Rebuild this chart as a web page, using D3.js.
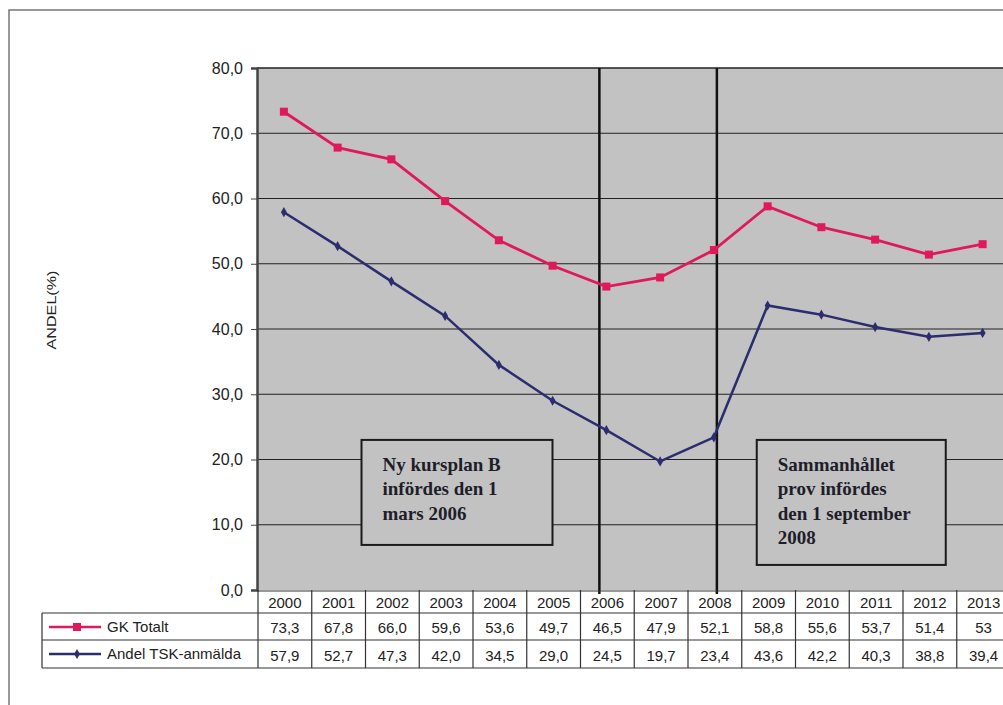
<!DOCTYPE html>
<html>
<head>
<meta charset="utf-8">
<script src="https://cdn.jsdelivr.net/npm/d3@7"></script>
<style>
  html, body { margin: 0; padding: 0; background: #fff; }
  svg { display: block; }
</style>
</head>
<body>
<svg id="chart" width="1003" height="705"></svg>
<script>
// Andel godkända (GK Totalt) och andel TSK-anmälda, 2000–2013
const years = ["2000","2001","2002","2003","2004","2005","2006","2007","2008","2009","2010","2011","2012","2013"];
const gkTotalt = [73.3, 67.8, 66.0, 59.6, 53.6, 49.7, 46.5, 47.9, 52.1, 58.8, 55.6, 53.7, 51.4, 53];
const tskAnmalda = [57.9, 52.7, 47.3, 42.0, 34.5, 29.0, 24.5, 19.7, 23.4, 43.6, 42.2, 40.3, 38.8, 39.4];
const gkLabels = ["73,3","67,8","66,0","59,6","53,6","49,7","46,5","47,9","52,1","58,8","55,6","53,7","51,4","53"];
const tskLabels = ["57,9","52,7","47,3","42,0","34,5","29,0","24,5","19,7","23,4","43,6","42,2","40,3","38,8","39,4"];
const yTicks = [0, 10, 20, 30, 40, 50, 60, 70, 80];
const seriesNames = ["GK Totalt", "Andel TSK-anmälda"];
const note1 = ["Ny kursplan B", "infördes den 1", "mars 2006"];
const note2 = ["Sammanhållet", "prov infördes", "den 1 september", "2008"];

const svg = d3.select("#chart");
const pink = "#de1a5a", navy = "#2b2d6e", gridCol = "#222";
const sans = "Liberation Sans, Arial, sans-serif";
const serif = "Liberation Serif, Times New Roman, serif";

// outer frame
svg.append("path").attr("d", "M9,705 V10 H1003").attr("fill", "none")
  .attr("stroke", "#777").attr("stroke-width", 1.5);

const plotTop = 68, plotBottom = 590, plotLeft = 257;
const bandW = 53.75;
const x = d3.scaleBand().domain(years).range([plotLeft, plotLeft + bandW * years.length]).padding(0);
const y = d3.scaleLinear().domain([0, 80]).range([plotBottom, plotTop]);
const cx = d => x(d) + x.bandwidth() / 2;

// plot background
svg.append("rect").attr("x", plotLeft).attr("y", plotTop)
  .attr("width", x.range()[1] - plotLeft).attr("height", plotBottom - plotTop)
  .attr("fill", "#c2c2c2");

// horizontal grid
svg.append("g").selectAll("line").data(yTicks.filter(t => t > 0)).join("line")
  .attr("x1", plotLeft).attr("x2", x.range()[1])
  .attr("y1", d => y(d)).attr("y2", d => y(d))
  .attr("stroke", gridCol).attr("stroke-width", d => d === 80 ? 1.5 : 1);

// y axis
const yAxis = d3.axisLeft(y).tickValues(yTicks).tickSize(6).tickPadding(8)
  .tickFormat(d => d3.format(".1f")(d).replace(".", ","));
const ya = svg.append("g").attr("transform", `translate(${plotLeft},0)`).call(yAxis);
ya.select(".domain").attr("stroke", "#444").attr("stroke-width", 2.5);
ya.selectAll(".tick line").attr("stroke", "#444");
ya.selectAll(".tick text").attr("font-family", sans).attr("font-size", 16).attr("fill", "#222");

// axis title
svg.append("text").attr("transform", "translate(56,310) rotate(-90)")
  .attr("text-anchor", "middle").attr("font-family", sans).attr("font-size", 13)
  .attr("textLength", 79).attr("lengthAdjust", "spacingAndGlyphs")
  .attr("fill", "#222").text("ANDEL(%)");

// event markers (March 2006, September 2008)
const events = [{ year: "2006", off: -7 }, { year: "2008", off: 3 }];
svg.append("g").selectAll("line").data(events).join("line")
  .attr("x1", d => cx(d.year) + d.off).attr("x2", d => cx(d.year) + d.off)
  .attr("y1", plotTop).attr("y2", plotBottom + 4)
  .attr("stroke", "#111").attr("stroke-width", 2.5);

// annotation boxes
function noteBox(lines, bx, by, bw, bh) {
  const g = svg.append("g");
  g.append("rect").attr("x", bx).attr("y", by).attr("width", bw).attr("height", bh)
    .attr("fill", "#c2c2c2").attr("stroke", "#1a1a1a").attr("stroke-width", 2);
  g.selectAll("text").data(lines).join("text")
    .attr("x", bx + 21).attr("y", (d, i) => by + 31 + i * 24.5)
    .attr("font-family", serif).attr("font-weight", "bold").attr("font-size", 19)
    .attr("fill", "#1e1e2a").text(d => d);
}
noteBox(note1, x("2002") - 3, y(23), 191, 105);
noteBox(note2, x("2009") + 16, y(23), 189, 125);

// series lines
const line = d3.line().x((d, i) => cx(years[i])).y(d => y(d));
svg.append("path").datum(gkTotalt).attr("d", line).attr("fill", "none")
  .attr("stroke", pink).attr("stroke-width", 2.8);
svg.append("path").datum(tskAnmalda).attr("d", line).attr("fill", "none")
  .attr("stroke", navy).attr("stroke-width", 2.5);

// markers
svg.append("g").selectAll("rect").data(gkTotalt).join("rect")
  .attr("x", (d, i) => cx(years[i]) - 4).attr("y", d => y(d) - 4)
  .attr("width", 8).attr("height", 8).attr("fill", pink);
const diamond = d3.symbol().type(d3.symbolDiamond).size(30);
svg.append("g").selectAll("path").data(tskAnmalda).join("path")
  .attr("transform", (d, i) => `translate(${cx(years[i])},${y(d)})`)
  .attr("d", diamond).attr("fill", navy);

// data table
const rowY = [plotBottom, 613, 640, 668];
const tableLeft = 42;
const tg = svg.append("g").attr("stroke", "#333").attr("stroke-width", 1.2);
// horizontal lines
tg.append("line").attr("x1", plotLeft).attr("x2", 1003).attr("y1", rowY[0] + 1).attr("y2", rowY[0] + 1);
[rowY[1], rowY[2], rowY[3]].forEach(yy =>
  tg.append("line").attr("x1", tableLeft).attr("x2", 1003).attr("y1", yy).attr("y2", yy));
// vertical lines
tg.append("line").attr("x1", tableLeft).attr("x2", tableLeft).attr("y1", rowY[1]).attr("y2", rowY[3]);
years.forEach(yr => tg.append("line").attr("x1", x(yr) + 1).attr("x2", x(yr) + 1)
  .attr("y1", rowY[0]).attr("y2", rowY[3]));

const cellText = (vals, yy) => svg.append("g").selectAll("text").data(vals).join("text")
  .attr("x", (d, i) => cx(years[i]) + 1).attr("y", yy).attr("text-anchor", "middle")
  .attr("font-family", sans).attr("font-size", 15).attr("fill", "#222").text(d => d);
cellText(years, 608);
cellText(gkLabels, 633);
cellText(tskLabels, 661);

// legend keys in the table
const keyRows = [{ name: seriesNames[0], col: pink, yy: 627, mark: "sq" },
                 { name: seriesNames[1], col: navy, yy: 654, mark: "di" }];
keyRows.forEach(k => {
  svg.append("line").attr("x1", 49).attr("x2", 101).attr("y1", k.yy).attr("y2", k.yy)
    .attr("stroke", k.col).attr("stroke-width", 2.5);
  if (k.mark === "sq") {
    svg.append("rect").attr("x", 73).attr("y", k.yy - 4).attr("width", 8).attr("height", 8).attr("fill", k.col);
  } else {
    svg.append("path").attr("transform", `translate(77,${k.yy})`).attr("d", diamond).attr("fill", k.col);
  }
  svg.append("text").attr("x", 107).attr("y", k.yy + 5).attr("font-family", sans)
    .attr("font-size", 15).attr("fill", "#222").text(k.name);
});
</script>
</body>
</html>
